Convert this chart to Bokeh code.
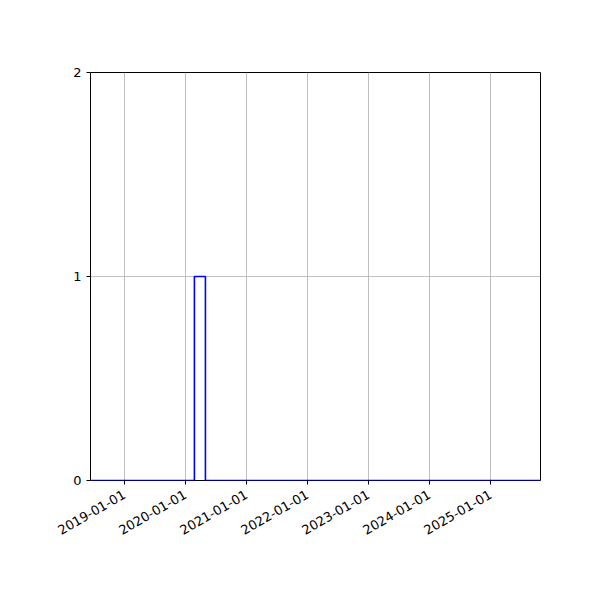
import math
import numpy as np
import pandas as pd
from bokeh.plotting import figure
from bokeh.models import FixedTicker, DatetimeTickFormatter, Range1d
from bokeh.embed import file_html
from bokeh.resources import INLINE

# data
bin_edges = ["2018-06-12", "2020-02-24", "2020-04-30", "2025-10-27"]
counts = [0, 1, 0]
x_ticks = ["2019-01-01", "2020-01-01", "2021-01-01", "2022-01-01",
           "2023-01-01", "2024-01-01", "2025-01-01"]
y_ticks = [0, 1, 2]
x_limits = ["2018-06-12", "2025-10-27"]
y_limits = [0, 2]

edges = pd.to_datetime(bin_edges)
xs, ys = [], []
for i, c in enumerate(counts):
    xs += [edges[i], edges[i + 1]]
    ys += [c, c]
# step outline closes at zero on both ends
xs = [edges[0]] + xs + [edges[-1]]
ys = [0] + ys + [0]

p = figure(width=590, height=590, output_backend="svg", toolbar_location=None,
           x_axis_type="datetime",
           x_range=Range1d(pd.Timestamp(x_limits[0]), pd.Timestamp(x_limits[1])),
           y_range=Range1d(*y_limits),
           min_border_left=90, min_border_right=50, min_border_top=72,
           min_border_bottom=110)

p.line(xs, ys, line_color="blue", line_width=1.6)

tick_ms = [pd.Timestamp(t).value // 10**6 for t in x_ticks]
p.xaxis.ticker = FixedTicker(ticks=tick_ms)
p.xaxis.formatter = DatetimeTickFormatter(days="%Y-%m-%d", months="%Y-%m-%d",
                                          years="%Y-%m-%d")
p.yaxis.ticker = FixedTicker(ticks=y_ticks)
p.xaxis.major_label_orientation = math.pi / 6
p.xaxis.major_label_standoff = 9
p.yaxis.major_label_standoff = 5

for ax in (p.xaxis, p.yaxis):
    ax.major_label_text_font = "DejaVu Sans"
    ax.major_label_text_font_size = "13px"
    ax.major_label_text_color = "black"
    ax.axis_line_color = None
    ax.major_tick_line_color = "black"
    ax.major_tick_in = 0
    ax.major_tick_out = 4
    ax.minor_tick_line_color = None

p.grid.grid_line_color = "#b0b0b0"
p.grid.grid_line_width = 0.8
p.outline_line_color = "black"
p.outline_line_width = 1
p.outline_line_alpha = 1
p.background_fill_color = "white"
p.border_fill_color = "white"

open("out.html", "w").write(file_html(p, INLINE))
